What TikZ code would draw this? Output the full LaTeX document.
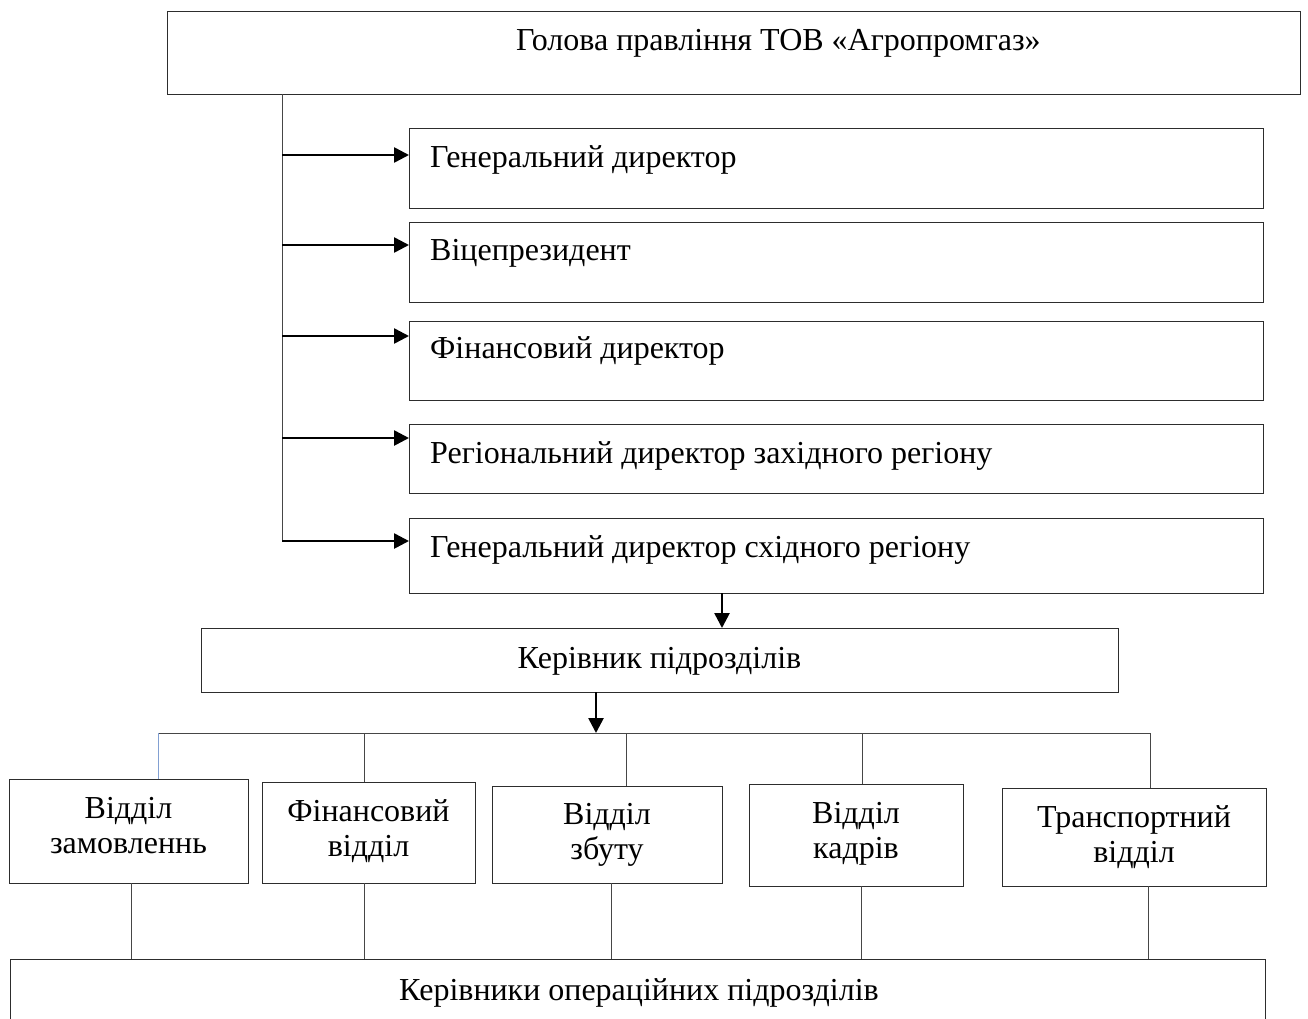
\documentclass[tikz,border=0pt]{standalone}
\usepackage{fontspec}
\setmainfont{Liberation Serif}
\usetikzlibrary{arrows.meta}
\definecolor{boxc}{RGB}{45,45,45}
\definecolor{linec}{RGB}{70,70,70}
\definecolor{bluel}{RGB}{130,160,210}
\begin{document}
\begin{tikzpicture}[x=1pt,y=-1pt,
  box/.style={draw=boxc, line width=1.4pt, inner sep=0pt, anchor=north west},
  lbl/.style={inner sep=0pt, font=\fontsize{32}{35}\selectfont},
  thinline/.style={draw=linec, line width=1pt},
  arr/.style={draw=black, line width=2.6pt, -{Triangle[length=15pt,width=15pt]}},
]
\fill[white] (0,0) rectangle (1308,1018);
\clip (0,0) rectangle (1308,1018);

% head
\node[box, minimum width=1133, minimum height=83] (head) at (167,11) {};
\node[lbl, anchor=base west] (headt) at (516,50) {Голова правління ТОВ «Агропромгаз»};

% directors
\node[box, minimum width=854, minimum height=80] (d1) at (409,128) {};
\node[box, minimum width=854, minimum height=80] (d2) at (409,222) {};
\node[box, minimum width=854, minimum height=79] (d3) at (409,321) {};
\node[box, minimum width=854, minimum height=69] (d4) at (409,424) {};
\node[box, minimum width=854, minimum height=75] (d5) at (409,518) {};
\node[lbl, anchor=base west] (d1t) at (430,167) {Генеральний директор};
\node[lbl, anchor=base west] (d2t) at (430,260) {Віцепрезидент};
\node[lbl, anchor=base west] (d3t) at (430,358) {Фінансовий директор};
\node[lbl, anchor=base west] (d4t) at (430,463) {Регіональний директор західного регіону};
\node[lbl, anchor=base west] (d5t) at (430,557) {Генеральний директор східного регіону};

% trunk
\coordinate (tr0) at (282,94);
\coordinate (tr1) at (282,155);
\coordinate (tr2) at (282,245);
\coordinate (tr3) at (282,336);
\coordinate (tr4) at (282,438);
\coordinate (tr5) at (282,541);
\draw[thinline] (tr0) -- (tr5);
\draw[arr] (tr1) -- (tr1 -| d1.west);
\draw[arr] (tr2) -- (tr2 -| d2.west);
\draw[arr] (tr3) -- (tr3 -| d3.west);
\draw[arr] (tr4) -- (tr4 -| d4.west);
\draw[arr] (tr5) -- (tr5 -| d5.west);

% manager
\node[box, minimum width=917, minimum height=64] (mgr) at (201,628) {};
\node[lbl, anchor=base] (mgrt) at (659.5,668) {Керівник підрозділів};
\coordinate (a1) at (722,593);
\draw[arr] (a1) -- (a1 |- mgr.north);

% bus
\coordinate (bus0) at (596,692);
\coordinate (bL) at (158,733);
\coordinate (bR) at (1150,733);
\draw[arr] (bus0) -- (bus0 |- bL);
\draw[thinline] (bL) -- (bR);

% departments
\node[box, minimum width=239, minimum height=104] (b1) at (9,779) {};
\node[box, minimum width=213, minimum height=101] (b2) at (262,782) {};
\node[box, minimum width=230, minimum height=97] (b3) at (492,786) {};
\node[box, minimum width=214, minimum height=102] (b4) at (749,784) {};
\node[box, minimum width=264, minimum height=98] (b5) at (1002,788) {};
\node[lbl, anchor=base] (b1t) at (128.5,818) {\begin{tabular}[t]{@{}c@{}}Відділ\\замовленнь\end{tabular}};
\node[lbl, anchor=base] (b2t) at (368.5,821) {\begin{tabular}[t]{@{}c@{}}Фінансовий\\відділ\end{tabular}};
\node[lbl, anchor=base] (b3t) at (607,824) {\begin{tabular}[t]{@{}c@{}}Відділ\\збуту\end{tabular}};
\node[lbl, anchor=base] (b4t) at (856,823) {\begin{tabular}[t]{@{}c@{}}Відділ\\кадрів\end{tabular}};
\node[lbl, anchor=base] (b5t) at (1134,827) {\begin{tabular}[t]{@{}c@{}}Транспортний\\відділ\end{tabular}};

\coordinate (u1) at (158,733);
\coordinate (u2) at (364,733);
\coordinate (u3) at (626,733);
\coordinate (u4) at (862,733);
\coordinate (u5) at (1150,733);
\draw[draw=bluel, line width=1pt] (u1) -- (u1 |- b1.north);
\draw[thinline] (u2) -- (u2 |- b2.north);
\draw[thinline] (u3) -- (u3 |- b3.north);
\draw[thinline] (u4) -- (u4 |- b4.north);
\draw[thinline] (u5) -- (u5 |- b5.north);

% operations
\node[box, minimum width=1255, minimum height=90] (ops) at (10,959) {};
\node[lbl, anchor=base] (opst) at (639,1000) {Керівники операційних підрозділів};

\coordinate (l1) at (131,883);
\coordinate (l2) at (364,883);
\coordinate (l3) at (611,883);
\coordinate (l4) at (861,886);
\coordinate (l5) at (1148,886);
\draw[thinline] (l1) -- (l1 |- ops.north);
\draw[thinline] (l2) -- (l2 |- ops.north);
\draw[thinline] (l3) -- (l3 |- ops.north);
\draw[thinline] (l4) -- (l4 |- ops.north);
\draw[thinline] (l5) -- (l5 |- ops.north);
\end{tikzpicture}
\end{document}
